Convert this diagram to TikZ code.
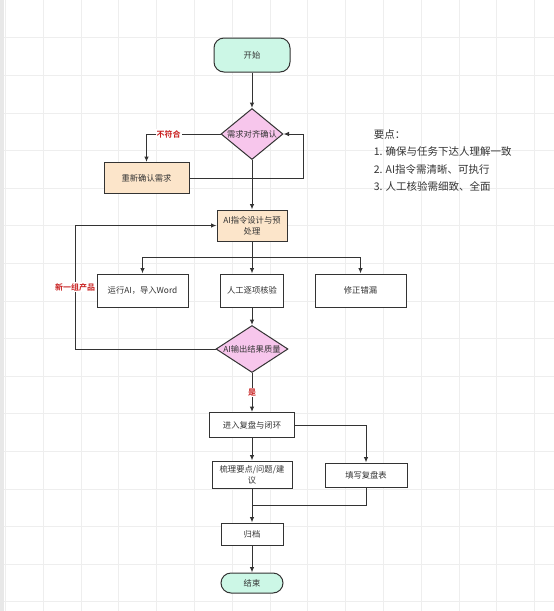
\documentclass[tikz,border=0pt]{standalone}
\usepackage{fontspec}
\setmainfont{Noto Sans CJK SC}[BoldFont={Noto Sans CJK SC Bold}]
\usetikzlibrary{
	shapes,
	arrows.meta,
	positioning,
	calc
}
\definecolor{ln}{RGB}{51,51,51}
\definecolor{mint}{RGB}{204,247,230}
\definecolor{pinkd}{RGB}{247,198,236}
\definecolor{peach}{RGB}{252,229,202}
\definecolor{redlbl}{RGB}{200,30,30}
\definecolor{gridc}{RGB}{238,238,238}

\begin{document}
\begin{tikzpicture}
[x=1pt, y=-1pt, line width=1pt, color=ln,
 >={Latex[length=5.5pt,width=4.5pt]},
 box/.style={draw, fill=white, rectangle, inner sep=1pt, align=center,
   font=\fontsize{8.3}{10.8}\selectfont},
 term/.style={box, fill=mint, rounded corners=10pt},
 dia/.style={draw, fill=pinkd, diamond, inner sep=0pt,
   font=\fontsize{8.3}{10}\selectfont},
 lbl/.style={fill=white, inner sep=1pt, text=redlbl,
   font=\fontsize{8}{10}\selectfont\bfseries}]
\useasboundingbox (0,0) rectangle (554,611);
\fill[white] (0,0) rectangle (554,611);
\fill[gray!18] (0,0) rectangle (4,611);
\foreach \gx in {0,...,14} \draw[gridc, line width=.6pt] ({5.2+37.8*\gx},0) -- ++(0,611);
\foreach \gy in {1,...,16} \draw[gridc, line width=.6pt] (4,{37.6*\gy}) -- ++(550,0);
\def\cx{252}
\node[term, minimum width=76pt, minimum height=34pt] (start) at (\cx,55) {开始};
\node[dia, minimum width=62pt, minimum height=51pt] (align) at (\cx,134) {\makebox[0pt]{需求对齐确认}};
\node[box, fill=peach, minimum width=85pt, minimum height=31pt] (redo) at (146.5,178) {重新确认需求};
\node[box, fill=peach, minimum width=70pt, minimum height=31pt] (design) at (\cx,225.5) {AI指令设计与预\\处理};
\node[box, minimum width=91pt, minimum height=33pt] (runai) at (142.5,290.5) {运行AI，导入Word};
\node[box, minimum width=63pt, minimum height=33pt] (check) at (\cx,290.5) {人工逐项核验};
\node[box, minimum width=91pt, minimum height=33pt] (fix) at (360.5,290.5) {修正错漏};
\node[dia, minimum width=72pt, minimum height=47pt] (quality) at (\cx,349) {\makebox[0pt]{AI输出结果质量}};
\node[box, minimum width=85pt, minimum height=25pt] (review) at (\cx,425) {进入复盘与闭环};
\node[box, minimum width=80pt, minimum height=27pt] (sort) at (\cx,474.5) {梳理要点/问题/建\\议};
\node[box, minimum width=82pt, minimum height=24pt] (table) at (366,475) {填写复盘表};
\node[box, minimum width=62pt, minimum height=22pt] (archive) at (\cx,534) {归档};
\node[term, minimum width=62pt, minimum height=20pt] (end) at (\cx,583) {结束};
\node[anchor=north west, align=left, font=\fontsize{10.5}{17.2}\selectfont] (notes) at (370,126)
  {要点：\\1. 确保与任务下达人理解一致\\2. AI指令需清晰、可执行\\3. 人工核验需细致、全面};
\coordinate (rb) at (303,178);
\coordinate (sp) at (\cx,257);
\coordinate (lp) at (75,349);
\coordinate (jn) at (\cx,505);
\draw[->] (start) -- (align);
\draw[->] (align.west) -- node[lbl, pos=.7] {不符合} (redo.north |- align.west) -- (redo.north);
\draw[->] (redo.east) -- (rb) |- (align.east);
\draw[->] (align) -- (design);
\draw (design) -- (sp);
\draw[->] (sp) -| (runai.north);
\draw[->] (sp) -- (check);
\draw[->] (sp) -| (fix.north);
\draw[->] (check) -- (quality);
\draw[->] (quality.west) -- (lp) |- node[lbl, pos=.25] {新一组产品} (design.west);
\draw[->] (quality) -- node[lbl] {是} (review);
\draw[->] (review) -- (sort);
\draw[->] (review.east) -| (table.north);
\draw[->] (sort) -- (archive);
\draw (table.south) |- (jn);
\draw[->] (archive) -- (end);
\end{tikzpicture}
\end{document}
